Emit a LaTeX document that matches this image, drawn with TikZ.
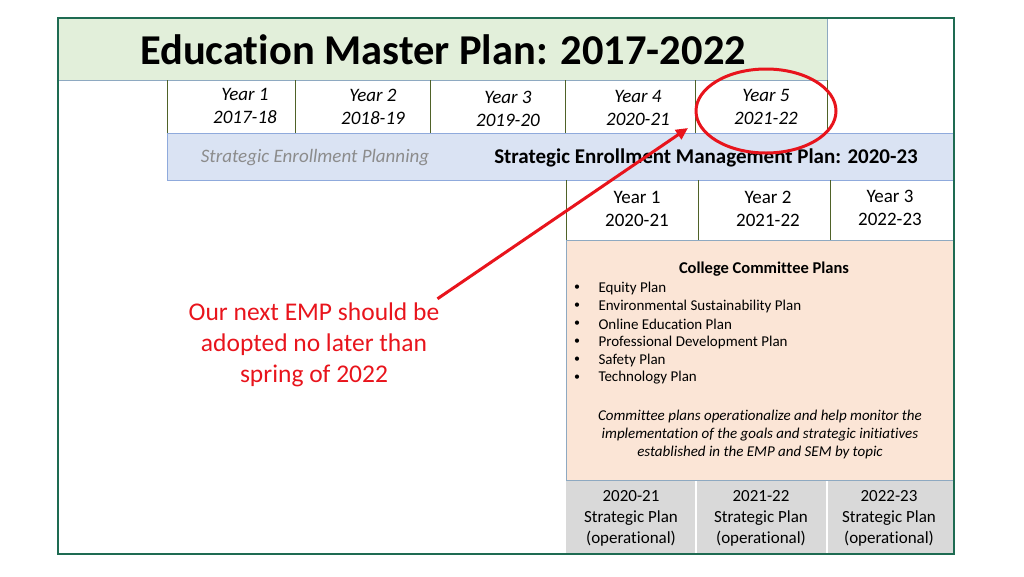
\documentclass[tikz,border=0pt]{standalone}
\usepackage{fontspec}
\setmainfont{Carlito}[Ligatures=NoCommon, Contextuals=NoAlternate]
\usetikzlibrary{arrows.meta,shapes.geometric}

\definecolor{framegreen}{HTML}{1E6B52}
\definecolor{titlefill}{HTML}{E2EFDA}
\definecolor{gridblue}{HTML}{8EA9C1}
\definecolor{olive}{HTML}{4F6228}
\definecolor{semfill}{HTML}{DAE3F3}
\definecolor{semline}{HTML}{8FAADC}
\definecolor{peach}{HTML}{FBE5D6}
\definecolor{opgray}{HTML}{D9D9D9}
\definecolor{notered}{HTML}{E8141C}
\definecolor{softgray}{HTML}{8C8C8C}

\begin{document}
\begin{tikzpicture}[
    x=1pt, y=-1pt,
    yearlbl/.style={align=center, font=\fontsize{19}{23}\selectfont\itshape},
    semyear/.style={align=center, font=\fontsize{19}{23}\selectfont},
    oplbl/.style={align=center, font=\fontsize{17}{21}\selectfont},
    plan/.style={anchor=west, font=\fontsize{15}{18}\selectfont},
    dot/.style={font=\fontsize{12}{18}\selectfont},
    sep/.style={draw=olive, line width=0.8pt}
  ]

  \useasboundingbox (0,0) rectangle (1024,576);

  % master plan header
  \fill[titlefill] (58,18) rectangle (827,80);
  \draw[gridblue, line width=0.8pt] (58,80) -- (827,80) -- (827,18);
  \node[font=\fontsize{42.5}{48}\selectfont\bfseries] (title) at (443,50) {Education Master Plan: 2017-2022};

  \foreach \x in {167,295,430,565,695,827}
    \draw[sep] (\x,80) -- (\x,133);

  \node[yearlbl] (emp1) at (245,106) {Year 1\\2017-18};
  \node[yearlbl] (emp2) at (373,107) {Year 2\\2018-19};
  \node[yearlbl] (emp3) at (508,109) {Year 3\\2019-20};
  \node[yearlbl] (emp4) at (638,108) {Year 4\\2020-21};
  \node[yearlbl] (emp5) at (766,107) {Year 5\\2021-22};

  % enrollment bar
  \draw[fill=semfill, draw=semline, line width=0.8pt] (167,133) rectangle (954,180);
  \node[font=\fontsize{19}{22}\selectfont\itshape, text=softgray] (sep) at (315,158) {Strategic Enrollment Planning};
  \node[font=\fontsize{21}{24}\selectfont\bfseries] (sem) at (706,158) {Strategic Enrollment Management Plan: 2020-23};

  \foreach \x in {566,698,830}
    \draw[sep] (\x,180) -- (\x,240);
  \node[semyear] (sem1) at (637,209) {Year 1\\2020-21};
  \node[semyear] (sem2) at (768,209) {Year 2\\2021-22};
  \node[semyear] (sem3) at (890,208) {Year 3\\2022-23};

  % committee plans
  \draw[fill=peach, draw=gridblue, line width=0.8pt] (566,240) rectangle (954,480);
  \node[font=\fontsize{16.5}{20}\selectfont\bfseries] (cmte) at (764,269) {College Committee Plans};
  \foreach \name [count=\i] in {Equity Plan,Environmental Sustainability Plan,Online Education Plan,Professional Development Plan,Safety Plan,Technology Plan} {
    \node[dot] (b\i) at (577,270+18*\i) {\textbullet};
    \node[plan] (p\i) at (595,270+18*\i) {\name};
  }
  \node[align=center, font=\fontsize{15}{18}\selectfont\itshape] (remark) at (760,434)
    {Committee plans operationalize and help monitor the\\implementation of the goals and strategic initiatives\\established in the EMP and SEM by topic};

  % operational plans
  \fill[opgray] (566,481) rectangle (954,554);
  \foreach \x in {696,827}
    \draw[white, line width=1.5pt] (\x,481) -- (\x,554);
  \node[oplbl] (op1) at (631,518) {2020-21\\Strategic Plan\\(operational)};
  \node[oplbl] (op2) at (761,518) {2021-22\\Strategic Plan\\(operational)};
  \node[oplbl] (op3) at (889,518) {2022-23\\Strategic Plan\\(operational)};

  % outer frame
  \draw[framegreen, line width=1.2pt] (58,18) rectangle (954,554);

  % callout
  \node[align=center, text=notered, font=\fontsize{25.5}{31}\selectfont, inner sep=0pt] (note) at (314,345)
    {Our next EMP should be\\adopted no later than\\spring of 2022};
  \node[draw=notered, line width=3pt, ellipse, minimum width=140, minimum height=84, inner sep=0pt] (ring) at (766,111) {};
  \coordinate (tip) at (688,128);
  \draw[notered, line width=3pt, -{Triangle[length=12pt,width=11pt]}] (note.north east) ++(-2,-4) -- (tip);

\end{tikzpicture}
\end{document}
